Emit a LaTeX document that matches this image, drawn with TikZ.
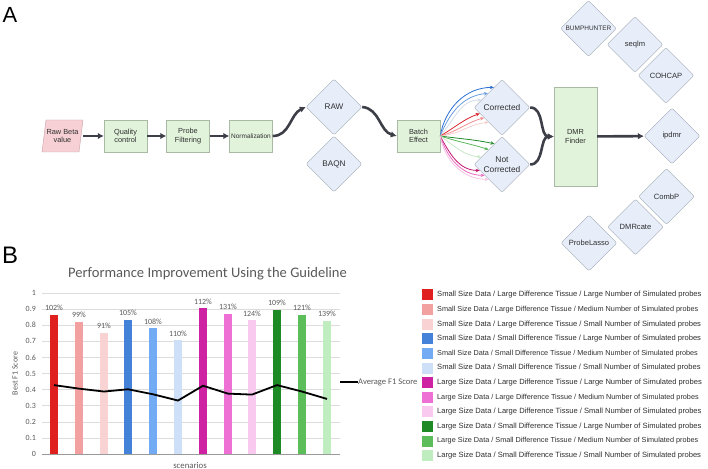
\documentclass[tikz,border=0pt]{standalone}
\usepackage{fontspec}
\setmainfont{Liberation Sans}
\newfontfamily\chartfont{Carlito}
\usepackage{tikz}
\usetikzlibrary{shapes.geometric,arrows.meta}

\definecolor{txtgray}{HTML}{2E2E2E}
\definecolor{boxgreen}{HTML}{E2F3DC}
\definecolor{boxline}{HTML}{A9B9A3}
\definecolor{rawpink}{HTML}{F6D0D4}
\definecolor{rawline}{HTML}{C8A2A8}
\definecolor{diafill}{HTML}{E7EEFA}
\definecolor{dialine}{HTML}{9EA6B0}
\definecolor{flowgray}{HTML}{3C3F47}
\definecolor{gridgray}{HTML}{DCDCDC}
\definecolor{axisgray}{HTML}{595959}
% fan colours
\definecolor{fbA}{HTML}{2A6FD4}
\definecolor{fbB}{HTML}{6A9BE0}
\definecolor{fbC}{HTML}{D3DCE8}
\definecolor{frA}{HTML}{D9242B}
\definecolor{frB}{HTML}{F08C8C}
\definecolor{frC}{HTML}{F6CFCF}
\definecolor{fgA}{HTML}{1F8A2B}
\definecolor{fgB}{HTML}{5CB85C}
\definecolor{fgC}{HTML}{C8E8C8}
\definecolor{fmA}{HTML}{C0176F}
\definecolor{fmB}{HTML}{EC6AC0}
\definecolor{fmC}{HTML}{F5C4E4}
% scenario colours
\definecolor{sA}{HTML}{E0201F}
\definecolor{sB}{HTML}{F2A0A0}
\definecolor{sC}{HTML}{F9D3D3}
\definecolor{sD}{HTML}{4482DA}
\definecolor{sE}{HTML}{72ABF3}
\definecolor{sF}{HTML}{CEE0F8}
\definecolor{sG}{HTML}{CF22A3}
\definecolor{sH}{HTML}{EF70D4}
\definecolor{sI}{HTML}{F9C9F0}
\definecolor{sJ}{HTML}{1E8A25}
\definecolor{sK}{HTML}{5BBE5B}
\definecolor{sL}{HTML}{C0EDC0}

\begin{document}
\begin{tikzpicture}[x=1bp,y=1bp,
  box/.style={draw=boxline, fill=boxgreen, minimum width=43bp, minimum height=32bp,
    inner sep=1bp, align=center, text=txtgray, font=\fontsize{7.4}{8.6}\selectfont},
  tool/.style={diamond, draw=dialine, fill=diafill, minimum width=56bp, minimum height=56bp,
    inner sep=0pt, rounded corners=2bp, align=center, text=txtgray, font=\fontsize{7.6}{8.6}\selectfont},
  flow/.style={draw=flowgray, line width=2.6bp, -{Latex[length=6bp,width=6.5bp]}},
  fan/.style={line width=0.8bp, -{Stealth[length=4bp,width=3.5bp]}},
  pct/.style={above=4bp, inner sep=0pt, text=axisgray},
  tick/.style={anchor=east, inner sep=0pt, text=axisgray},
  key/.style={anchor=west, inner sep=0pt, text=txtgray, font=\fontsize{7.6}{8}\selectfont},
  keymid/.style={key, font=\fontsize{7.3}{8}\selectfont},
  avgline/.style={black, line width=1.8bp, line join=round}]
\useasboundingbox (0,0) rectangle (708,-469);

% ---- part A
\node[font=\fontsize{22}{22}\selectfont, text=black] (labA) at (10,-15) {A};
\filldraw[draw=rawline, fill=rawpink] (42,-152) -- (79,-152) -- (83,-120) -- (46,-120) -- cycle;
\node[minimum width=41bp, minimum height=32bp, inner sep=0pt, align=center, text=txtgray,
  font=\fontsize{7.4}{8.6}\selectfont] (rawbeta) at (62.5,-136) {Raw Beta\\value};
\node[box] (qc) at (125.5,-136) {Quality\\control};
\node[box] (pf) at (188,-136) {Probe\\Filtering};
\node[box, font=\fontsize{6.5}{7.5}\selectfont] (norm) at (251,-136) {Normalization};
\node[tool, font=\fontsize{8.2}{9}\selectfont] (raw) at (334,-107) {RAW};
\node[tool, font=\fontsize{8.2}{9}\selectfont] (baqn) at (334,-164) {BAQN};
\node[box] (batch) at (418.5,-136) {Batch\\Effect};
\node[tool, font=\fontsize{8.4}{10}\selectfont] (corr) at (502,-107.5) {Corrected};
\node[tool, font=\fontsize{8.4}{10}\selectfont] (notcorr) at (502,-164.5) {Not\\Corrected};
\node[box, minimum height=99bp] (dmr) at (575.5,-136.5) {DMR\\Finder};
\node[tool] (ipdmr) at (672,-136) {ipdmr};
\node[tool, font=\fontsize{6.5}{7.5}\selectfont] (bump) at (588.5,-28.5) {BUMPHUNTER};
\node[tool] (seqlm) at (635,-44.5) {seqlm};
\node[tool] (cohcap) at (666,-75.5) {COHCAP};
\node[tool] (combp) at (666.5,-196.5) {CombP};
\node[tool] (dmrcate) at (635.5,-227) {DMRcate};
\node[tool] (probelasso) at (589,-243) {ProbeLasso};

\draw[flow] (rawbeta) -- (qc);
\draw[flow] (qc) -- (pf);
\draw[flow] (pf) -- (norm);
\draw[flow] (norm.east) to[out=0,in=205] (raw.west);
\draw[flow] (raw.east) to[out=-5,in=165] (batch.west);
\draw[fan, fbA] (batch.east) to[out=80,in=180] (corr.112);
\draw[fan, fbB] (batch.east) to[out=68,in=185] (corr.135);
\draw[fan, fbC] (batch.east) to[out=48,in=180] (corr.160);
\draw[fan, frA] (batch.east) to[out=30,in=200] (corr.195);
\draw[fan, frB] (batch.east) to[out=15,in=195] (corr.210);
\draw[fan, frC] (batch.east) to[out=5,in=185] (corr.228);
\draw[fan, fgA] (batch.east) to[out=-8,in=168] (notcorr.110);
\draw[fan, fgB] (batch.east) to[out=-18,in=162] (notcorr.132);
\draw[fan, fgC] (batch.east) to[out=-35,in=175] (notcorr.160);
\draw[fan, fmA] (batch.east) to[out=-62,in=180] (notcorr.195);
\draw[fan, fmB] (batch.east) to[out=-72,in=180] (notcorr.212);
\draw[fan, fmC] (batch.east) to[out=-80,in=180] (notcorr.228);
\draw[flow] (corr.east) to[out=0,in=180] (dmr.west);
\draw[flow] (notcorr.east) to[out=0,in=180] (dmr.west);
\draw[flow] (dmr) -- (ipdmr);

% ---- part B
\node[font=\fontsize{24}{24}\selectfont, text=black] (labB) at (10,-255) {B};
\node[font=\chartfont\fontsize{14.6}{16}\selectfont, text=axisgray] (title) at (207.5,-274) {Performance Improvement Using the Guideline};

\begin{scope}[yshift=-454bp, y=161bp, font=\chartfont\fontsize{8}{9}\selectfont]
\foreach \v [count=\i] in {0.1,0.2,0.3,0.4,0.5,0.6,0.7,0.8,0.9,1} {
  \draw[gridgray, line width=0.6bp] (42,\v) -- (340,\v);
  \node[tick] (tick\i) at (36,\v) {\v};
}
\draw[gridgray!70!black, line width=0.6bp] (42,0) -- (340,0);
\node[tick] (tick0) at (36,0) {0};
\fill[sA] (50,0) rectangle (58,0.865);
\fill[sB] (75,0) rectangle (83,0.82);
\fill[sC] (100,0) rectangle (108,0.75);
\fill[sD] (124,0) rectangle (132,0.835);
\fill[sE] (149,0) rectangle (157,0.78);
\fill[sF] (174,0) rectangle (182,0.705);
\fill[sG] (199,0) rectangle (207,0.905);
\fill[sH] (224,0) rectangle (232,0.87);
\fill[sI] (248,0) rectangle (256,0.83);
\fill[sJ] (273,0) rectangle (281,0.895);
\fill[sK] (298,0) rectangle (306,0.865);
\fill[sL] (323,0) rectangle (331,0.825);
\node[pct] (pA) at (54,0.865) {102\%};
\node[pct] (pB) at (79,0.82) {99\%};
\node[pct] (pC) at (104,0.75) {91\%};
\node[pct] (pD) at (128,0.835) {105\%};
\node[pct] (pE) at (153,0.78) {108\%};
\node[pct] (pF) at (178,0.705) {110\%};
\node[pct] (pG) at (203,0.905) {112\%};
\node[pct] (pH) at (228,0.87) {131\%};
\node[pct] (pI) at (252,0.83) {124\%};
\node[pct] (pJ) at (277,0.895) {109\%};
\node[pct] (pK) at (302,0.865) {121\%};
\node[pct] (pL) at (327,0.825) {139\%};
\draw[avgline] (54,0.428) -- (79,0.406) -- (104,0.388) -- (128,0.402) -- (153,0.371)
  -- (178,0.332) -- (203,0.424) -- (228,0.375) -- (252,0.369) -- (277,0.428)
  -- (302,0.388) -- (327,0.342);
\node[rotate=90, text=axisgray] (ytitle) at (15,0.5) {Best F1 Score};
\node[text=axisgray, font=\chartfont\fontsize{8.8}{10}\selectfont] (xtitle) at (190,-0.07) {scenarios};
\end{scope}

\coordinate (avgstart) at (340,-382);
\node[anchor=west, inner sep=0pt, text=axisgray, font=\chartfont\fontsize{8.6}{9}\selectfont] (avgkey) at (358,-382) {Average F1 Score};
\draw[avgline] (avgstart) -- (avgkey.west);

\fill[sA] (422,-289.5) rectangle (433,-300.5);
\node[key] (kA) at (437,-295) {Small Size Data / Large Difference Tissue / Large Number of Simulated probes};
\fill[sB] (422,-304.1) rectangle (433,-315.1);
\node[keymid] (kB) at (437,-309.6) {Small Size Data / Large Difference Tissue / Medium Number of Simulated probes};
\fill[sC] (422,-318.7) rectangle (433,-329.7);
\node[key] (kC) at (437,-324.2) {Small Size Data / Large Difference Tissue / Small Number of Simulated probes};
\fill[sD] (422,-333.3) rectangle (433,-344.3);
\node[key] (kD) at (437,-338.8) {Small Size Data / Small Difference Tissue / Large Number of Simulated probes};
\fill[sE] (422,-347.9) rectangle (433,-358.9);
\node[keymid] (kE) at (437,-353.4) {Small Size Data / Small Difference Tissue / Medium Number of Simulated probes};
\fill[sF] (422,-362.5) rectangle (433,-373.5);
\node[key] (kF) at (437,-368) {Small Size Data / Small Difference Tissue / Small Number of Simulated probes};
\fill[sG] (422,-377.1) rectangle (433,-388.1);
\node[key] (kG) at (437,-382.6) {Large Size Data / Large Difference Tissue / Large Number of Simulated probes};
\fill[sH] (422,-391.7) rectangle (433,-402.7);
\node[keymid] (kH) at (437,-397.2) {Large Size Data / Large Difference Tissue / Medium Number of Simulated probes};
\fill[sI] (422,-406.3) rectangle (433,-417.3);
\node[key] (kI) at (437,-411.8) {Large Size Data / Large Difference Tissue / Small Number of Simulated probes};
\fill[sJ] (422,-420.9) rectangle (433,-431.9);
\node[key] (kJ) at (437,-426.4) {Large Size Data / Small Difference Tissue / Large Number of Simulated probes};
\fill[sK] (422,-435.5) rectangle (433,-446.5);
\node[keymid] (kK) at (437,-441) {Large Size Data / Small Difference Tissue / Medium Number of Simulated probes};
\fill[sL] (422,-450.1) rectangle (433,-461.1);
\node[key] (kL) at (437,-455.6) {Large Size Data / Small Difference Tissue / Small Number of Simulated probes};
\end{tikzpicture}
\end{document}
